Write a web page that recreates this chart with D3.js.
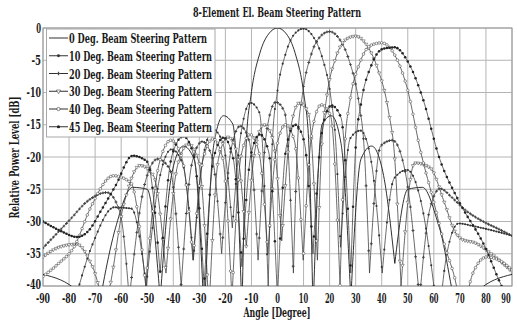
<!DOCTYPE html>
<html>
<head>
<meta charset="utf-8">
<script src="https://cdn.jsdelivr.net/npm/d3@7"></script>
<style>
  body { margin: 0; background: #fff; }
  svg { display: block; }
  .lbl { font-family: "DejaVu Serif Condensed", "DejaVu Serif", serif; font-weight: bold; fill: #1a1a1a; }
</style>
</head>
<body>
<div id="chart"></div>
<script>
// ---- data ----
const chartTitle = '8-Element El. Beam Steering Pattern';
const xLabel = 'Angle [Degree]';
const yLabel = 'Relative Power Level [dB]';
const angleTicks = [-90, -80, -70, -60, -50, -40, -30, -20, -10, 0, 10, 20, 30, 40, 50, 60, 70, 80, 90];
const dbTicks = [0, -5, -10, -15, -20, -25, -30, -35, -40];
const seriesNames = [
  '0 Deg. Beam Steering Pattern',
  '10 Deg. Beam Steering Pattern',
  '20 Deg. Beam Steering Pattern',
  '30 Deg. Beam Steering Pattern',
  '40 Deg. Beam Steering Pattern',
  '45 Deg. Beam Steering Pattern'
];

// [angle (deg), relative power (dB)]
const steer0 = [[-90,-38.2],[-76.6,-40.9],[-70.6,-48],[-62.17,-31.0],[-55.62,-24.7],[-50.03,-25.0],[-45.02,-42],[-40.43,-22.3],[-36.13,-18.3],[-32.05,-20.3],[-28.14,-45],[-24.38,-17.9],[-20.71,-13.6],[-17.15,-14.9],[-13.64,-44],[-11.91,-17.1],[-10.19,-10.5],[-6.77,-3.9],[-3.38,-0.9],[0,0],[3.38,-0.9],[6.77,-3.9],[10.19,-10.5],[11.91,-17.1],[13.64,-44],[17.15,-14.9],[20.71,-13.6],[24.38,-17.9],[28.14,-42],[32.05,-20.3],[36.13,-18.3],[40.43,-22.3],[45.02,-36.5],[50.03,-25.0],[55.62,-24.7],[62.17,-31.0],[70.6,-45],[76.6,-40.9],[90,-38.2]];
const steer10 = [[-90,-55],[-80,-45],[-71.25,-33.8],[-62.67,-27.8],[-56.04,-28.0],[-50.37,-40],[-45.32,-23.4],[-40.67,-18.8],[-36.37,-21.1],[-32.28,-36],[-28.37,-19.6],[-24.58,-15.8],[-20.92,-17.9],[-17.34,-31],[-13.84,-15.9],[-10.38,-11.6],[-6.96,-13.1],[-3.57,-40],[-1.88,-17.0],[-0.19,-10.3],[3.19,-3.9],[6.58,-0.9],[10,-0.1],[13.45,-1.2],[16.95,-4.3],[20.52,-10.9],[22.33,-17.6],[24.17,-34],[27.94,-17.1],[31.84,-15.9],[35.9,-20.5],[40.19,-38],[44.78,-23.3],[49.78,-22.0],[55.38,-27.5],[61.8,-46],[65,-35],[69.5,-30.3],[75,-30.7],[81.6,-31.3],[90,-32.2]];
const steer20 = [[-90,-34.1],[-79.83,-29.8],[-72.8,-26.8],[-65.5,-25.5],[-60.5,-28.5],[-56.89,-42],[-51.14,-24.5],[-46.0,-20.3],[-41.33,-21.9],[-36.96,-40],[-32.85,-21.0],[-28.91,-17.6],[-25.12,-20.0],[-21.44,-35],[-17.85,-18.9],[-14.33,-15.2],[-10.87,-17.5],[-7.45,-36],[-4.05,-15.7],[-0.67,-11.5],[2.71,-13.0],[6.10,-38],[7.80,-17.0],[9.51,-10.5],[12.95,-4.1],[16.45,-1.3],[20,-0.55],[23.64,-1.65],[27.39,-4.9],[31.27,-11.7],[33.25,-18.6],[35.32,-38],[39.57,-18.3],[44.09,-17.4],[49.02,-22.3],[54.51,-42],[58.5,-28],[62.4,-24.9],[67,-26.3],[72,-28.2],[78,-29.8],[84,-31.0],[90,-32.2]];
const steer30 = [[-90,-35.5],[-84,-34],[-77.04,-33.5],[-71,-37],[-66.21,-42],[-58.91,-27.2],[-52.85,-21.3],[-47.59,-22.9],[-42.8,-38],[-38.35,-21.3],[-34.14,-18.0],[-30.15,-20.8],[-26.31,-44],[-22.61,-20.2],[-18.99,-16.9],[-15.45,-19.5],[-11.97,-34],[-8.54,-18.6],[-5.14,-15.0],[-1.75,-17.3],[1.63,-33],[5.01,-15.7],[8.41,-11.6],[11.84,-13.2],[15.32,-36],[17.08,-17.4],[18.86,-10.8],[22.47,-4.5],[26.17,-1.8],[30,-1.25],[33.99,-2.5],[38.18,-6.0],[42.63,-13.0],[44.95,-20.0],[47.41,-40],[52.66,-20.9],[58.65,-21.7],[64,-27],[68,-31.5],[71,-32.8],[75.8,-33.3],[82,-35],[90,-37.8]];
const steer40 = [[-90,-38.5],[-84,-36.5],[-78,-33.9],[-71.69,-27.8],[-62.96,-22.9],[-56.28,-24.0],[-50.59,-40],[-45.52,-21.2],[-40.86,-17.4],[-36.53,-20.4],[-32.44,-36],[-28.52,-20.3],[-24.74,-17.2],[-21.07,-20.1],[-17.48,-42],[-13.98,-19.8],[-10.52,-16.5],[-7.10,-19.3],[-3.70,-35],[-0.33,-18.5],[3.06,-15.0],[6.44,-17.4],[9.86,-36],[13.31,-15.9],[16.81,-11.9],[20.36,-13.6],[24.01,-40],[25.89,-17.9],[27.78,-11.4],[31.68,-5.3],[35.73,-2.7],[40,-2.3],[44.58,-3.9],[49.56,-9.0],[55.13,-19.5],[60,-27],[64,-33.5],[68.7,-40],[70.5,-44],[75,-38],[80.3,-35.5],[85,-36],[90,-37.5]];
const steer45 = [[-90,-30],[-83,-31.5],[-77,-32.4],[-72,-31.2],[-68,-28.5],[-62.21,-24.5],[-55.64,-19.8],[-50.05,-20.7],[-45.05,-38],[-40.45,-19.7],[-36.14,-16.8],[-32.07,-19.9],[-28.16,-40],[-24.40,-20.0],[-20.73,-17.0],[-17.16,-19.9],[-13.66,-37],[-10.21,-19.7],[-6.79,-16.5],[-3.40,-19.2],[-0.02,-42],[3.36,-18.5],[6.76,-15.0],[10.17,-17.5],[13.62,-35],[17.12,-16.0],[20.70,-12.0],[24.36,-13.9],[28.13,-38],[30.05,-18.2],[32.03,-11.8],[36.09,-5.7],[40.40,-3.25],[45,-3.0],[50.0,-5.2],[55.6,-10.7],[62.25,-20.3],[69.4,-26.7],[79.6,-33.9],[86,-40],[90,-43]];

const seriesData = [steer0, steer10, steer20, steer30, steer40, steer45];

/**
 * Beam steering pattern chart
 */
class BeamPatternChart {
  constructor(containerId) {
    this.containerId = containerId;
    this.width = 517;
    this.height = 321;
    this.plot = { left: 43, right: 512, top: 28, bottom: 286 };
    // marker look per series (index matches seriesData)
    this.markers = [
      null,
      { type: d3.symbolCircle, size: 3.5, fill: '#333', stroke: 'none' },
      { type: d3.symbolCross, size: 4.5, fill: '#444', stroke: 'none' },
      { type: d3.symbolTriangle, size: 5, fill: '#fff', stroke: '#444', rotate: 180 },
      { type: d3.symbolCircle, size: 5.5, fill: '#fff', stroke: '#333' },
      { type: d3.symbolCircle, size: 5, fill: '#222', stroke: 'none' }
    ];
  }

  render() {
    const p = this.plot;
    this.x = d3.scaleLinear().domain([-90, 90]).range([p.left, p.right]);
    this.y = d3.scaleLinear().domain([-40, 0]).range([p.bottom, p.top]);

    this.svg = d3.select(`#${this.containerId}`)
      .append('svg')
      .attr('width', this.width)
      .attr('height', this.height)
      .style('background', '#fff');

    this.svg.append('defs').append('clipPath')
      .attr('id', 'plot-clip')
      .append('rect')
      .attr('x', p.left).attr('y', p.top)
      .attr('width', p.right - p.left).attr('height', p.bottom - p.top);

    this.drawGrid();
    this.drawSeries();
    this.drawLegend();
    this.drawTexts();
  }

  /**
   * Gridlines and frame
   */
  drawGrid() {
    const p = this.plot;
    const g = this.svg.append('g').attr('class', 'grid');

    g.selectAll('line.vx')
      .data(angleTicks)
      .enter().append('line')
      .attr('x1', d => this.x(d)).attr('x2', d => this.x(d))
      .attr('y1', p.top).attr('y2', p.bottom)
      .attr('stroke', '#b4b4b4').attr('stroke-width', 1);

    g.selectAll('line.hy')
      .data(dbTicks)
      .enter().append('line')
      .attr('x1', p.left).attr('x2', p.right)
      .attr('y1', d => this.y(d)).attr('y2', d => this.y(d))
      .attr('stroke', '#b4b4b4').attr('stroke-width', 1);

    g.append('rect')
      .attr('x', p.left).attr('y', p.top)
      .attr('width', p.right - p.left).attr('height', p.bottom - p.top)
      .attr('fill', 'none').attr('stroke', '#9a9a9a').attr('stroke-width', 1);
  }

  /**
   * Split a series at its nulls so each lobe gets its own smooth piece
   */
  splitLobes(data) {
    const parts = [];
    let cur = [data[0]];
    for (let i = 1; i < data.length; i++) {
      cur.push(data[i]);
      const isNull = i < data.length - 1 &&
        data[i][1] < data[i - 1][1] - 6 && data[i][1] < data[i + 1][1] - 6;
      if (isNull) {
        parts.push(cur);
        cur = [data[i]];
      }
    }
    parts.push(cur);
    return parts;
  }

  drawSeries() {
    const line = d3.line()
      .x(d => this.x(d[0]))
      .y(d => this.y(d[1]))
      .curve(d3.curveMonotoneX);

    const g = this.svg.append('g').attr('clip-path', 'url(#plot-clip)');
    const sampleAngles = d3.range(-90, 90.5, 1);

    seriesData.forEach((data, i) => {
      const pathD = this.splitLobes(data).map(part => line(part)).join('');
      const path = g.append('path')
        .attr('d', pathD)
        .attr('fill', 'none')
        .attr('stroke', i === 0 ? '#1a1a1a' : '#3a3a3a')
        .attr('stroke-width', i === 0 ? 0.9 : 0.75);

      const m = this.markers[i];
      if (!m) return;
      const pts = this.sampleAlongPath(path.node(), sampleAngles);
      const sym = d3.symbol().type(m.type).size(m.size);
      g.append('g').selectAll('path')
        .data(pts)
        .enter().append('path')
        .attr('d', sym)
        .attr('transform', d => `translate(${d.x},${d.y})` + (m.rotate ? ` rotate(${m.rotate})` : ''))
        .attr('fill', m.fill)
        .attr('stroke', m.stroke)
        .attr('stroke-width', 0.5);
    });
  }

  /**
   * Find the points of a drawn path at the given angles
   */
  sampleAlongPath(node, angles) {
    const total = node.getTotalLength();
    const pts = [];
    for (let l = 0; l <= total; l += 1) pts.push(node.getPointAtLength(l));
    pts.push(node.getPointAtLength(total));
    const bis = d3.bisector(q => q.x).left;
    return angles.map(a => {
      const px = this.x(a);
      let j = bis(pts, px);
      if (j <= 0) return { x: pts[0].x, y: pts[0].y };
      if (j >= pts.length) j = pts.length - 1;
      const p0 = pts[j - 1], p1 = pts[j];
      const t = p1.x === p0.x ? 0 : (px - p0.x) / (p1.x - p0.x);
      return { x: px, y: p0.y + t * (p1.y - p0.y) };
    }).filter(d => d.y <= this.plot.bottom + 3);
  }

  drawLegend() {
    const box = { x: 46.5, y: 29, w: 168.5, h: 108 };
    const g = this.svg.append('g').attr('class', 'legend');
    g.append('rect')
      .attr('x', box.x).attr('y', box.y)
      .attr('width', box.w).attr('height', box.h)
      .attr('fill', '#fff').attr('stroke', '#a8a8a8').attr('stroke-width', 1);

    seriesNames.forEach((name, i) => {
      const base = 43 + i * 17.75;
      const ly = base - 5;
      g.append('line')
        .attr('x1', 49).attr('x2', 68)
        .attr('y1', ly).attr('y2', ly)
        .attr('stroke', '#1a1a1a').attr('stroke-width', 0.9);
      const m = this.markers[i];
      if (m) {
        g.append('path')
          .attr('d', d3.symbol().type(m.type).size(m.size + 3))
          .attr('transform', `translate(58.5,${ly})` + (m.rotate ? ` rotate(${m.rotate})` : ''))
          .attr('fill', m.fill).attr('stroke', m.stroke).attr('stroke-width', 0.6);
      }
      g.append('text')
        .attr('class', 'lbl')
        .attr('x', 69).attr('y', base)
        .attr('font-size', 13.5)
        .attr('textLength', i === 0 ? 138 : 143)
        .attr('lengthAdjust', 'spacingAndGlyphs')
        .text(name);
    });
  }

  drawTexts() {
    const p = this.plot;

    this.svg.append('text')
      .attr('class', 'lbl')
      .attr('x', 277).attr('y', 17)
      .attr('text-anchor', 'middle')
      .attr('font-size', 12.5)
      .attr('textLength', 168).attr('lengthAdjust', 'spacingAndGlyphs')
      .text(chartTitle);

    // y tick labels (the bottom one sits a little higher, clear of the x labels)
    this.svg.append('g').selectAll('text')
      .data(dbTicks)
      .enter().append('text')
      .attr('class', 'lbl')
      .attr('x', p.left - 2)
      .attr('y', d => this.y(d) + (d === -40 ? 2.5 : 4.5))
      .attr('text-anchor', 'end')
      .attr('font-size', 13.5)
      .attr('textLength', d => String(d).length * 4.8)
      .attr('lengthAdjust', 'spacingAndGlyphs')
      .text(d => d);

    // x tick labels (the last one pulled in from the page edge)
    this.svg.append('g').selectAll('text')
      .data(angleTicks)
      .enter().append('text')
      .attr('class', 'lbl')
      .attr('x', d => Math.min(this.x(d), 506))
      .attr('y', 302.5)
      .attr('text-anchor', 'middle')
      .attr('font-size', 12.5)
      .attr('textLength', d => String(d).length * 4.7)
      .attr('lengthAdjust', 'spacingAndGlyphs')
      .text(d => d);

    this.svg.append('text')
      .attr('class', 'lbl')
      .attr('x', 277).attr('y', 316.5)
      .attr('text-anchor', 'middle')
      .attr('font-size', 13)
      .attr('textLength', 67).attr('lengthAdjust', 'spacingAndGlyphs')
      .text(xLabel);

    this.svg.append('text')
      .attr('class', 'lbl')
      .attr('transform', 'translate(18.5,157.5) rotate(-90)')
      .attr('text-anchor', 'middle')
      .attr('font-size', 12.5)
      .attr('textLength', 122).attr('lengthAdjust', 'spacingAndGlyphs')
      .text(yLabel);
  }
}

new BeamPatternChart('chart').render();
</script>
</body>
</html>
